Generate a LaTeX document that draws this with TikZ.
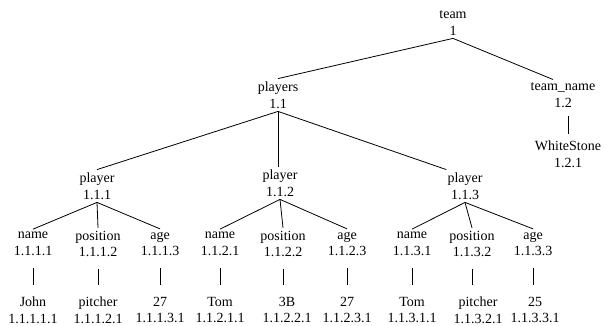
\documentclass[tikz,border=0pt]{standalone}
\usepackage{fontspec}
\setmainfont{Liberation Serif}
\begin{document}
\begin{tikzpicture}[x=1pt,y=-1pt,
  tn/.style={align=center,inner xsep=1pt,inner ysep=3pt,font=\fontsize{14}{16.5}\selectfont},
  ed/.style={draw=black,line width=0.8pt}]
\useasboundingbox (0,0) rectangle (604,326);
% level 0
\node[tn] (t) at (453,23) {team\\1};
% level 1
\node[tn] (p) at (278,95) {players\\1.1};
\node[tn] (tn) at (563,95) {team\_name\\1.2};
\node[tn] (ws) at (568,154) {WhiteStone\\1.2.1};
% level 2
\node[tn] (p1) at (97,186) {player\\1.1.1};
\node[tn] (p2) at (280,183) {player\\1.1.2};
\node[tn] (p3) at (465,186) {player\\1.1.3};
% level 3
\node[tn] (n1) at (33,244) {name\\1.1.1.1};
\node[tn] (o1) at (98,244) {position\\1.1.1.2};
\node[tn] (a1) at (160,244) {age\\1.1.1.3};
\node[tn] (n2) at (220,244) {name\\1.1.2.1};
\node[tn] (o2) at (283,244) {position\\1.1.2.2};
\node[tn] (a2) at (347,244) {age\\1.1.2.3};
\node[tn] (n3) at (412,244) {name\\1.1.3.1};
\node[tn] (o3) at (472,244) {position\\1.1.3.2};
\node[tn] (a3) at (533,244) {age\\1.1.3.3};
% leaves
\node[tn] (l1) at (33,310) {John\\1.1.1.1.1};
\node[tn] (l2) at (98,310) {pitcher\\1.1.1.2.1};
\node[tn] (l3) at (160,310) {27\\1.1.1.3.1};
\node[tn] (l4) at (220,310) {Tom\\1.1.2.1.1};
\node[tn] (l5) at (287,310) {3B\\1.1.2.2.1};
\node[tn] (l6) at (347,310) {27\\1.1.2.3.1};
\node[tn] (l7) at (412,310) {Tom\\1.1.3.1.1};
\node[tn] (l8) at (478,310) {pitcher\\1.1.3.2.1};
\node[tn] (l9) at (535,310) {25\\1.1.3.3.1};
% edges
\draw[ed] (t.south) -- (p.north);
\draw[ed] (t.south) -- ([xshift=-10pt]tn.north);
\draw[ed] ([yshift=-6pt]ws.north |- tn.south) -- ([yshift=4pt]ws.north);
\draw[ed] (p.south) -- (p1.north);
\draw[ed] (p.south) -- (p.south |- p2.north);
\draw[ed] (p.south) -- (p3.north west);
\foreach \pp/\a/\b/\c in {p1/n1/o1/a1,p2/n2/o2/a2,p3/n3/o3/a3}{
  \draw[ed] (\pp.south) -- (\a.north);
  \draw[ed] (\pp.south) -- (\b.north);
  \draw[ed] (\pp.south) -- (\c.north);
}
\foreach \u/\v in {n1/l1,o1/l2,a1/l3,n2/l4,o2/l5,a2/l6,n3/l7,o3/l8,a3/l9}{
  \draw[ed] ([yshift=-9pt]\u.south) -- ([yshift=9pt]\u.south |- \v.north);
}
\end{tikzpicture}
\end{document}
